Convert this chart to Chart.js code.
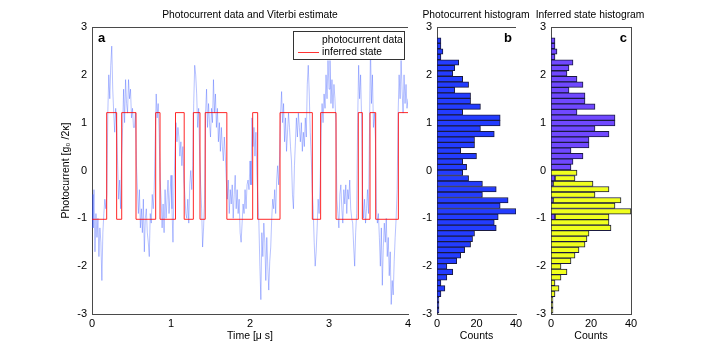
<!DOCTYPE html>
<html>
<head>
<meta charset="utf-8">
<script src="https://cdn.jsdelivr.net/npm/chart.js@4.4.0/dist/chart.umd.min.js"></script>
<style>
    body { margin: 0; background: #fff; width: 706px; height: 344px; position: relative; overflow: hidden; }
    canvas { position: absolute; top: 0; }
</style>
</head>
<body>
<canvas id="GraphTrace" style="left:0px" width="420" height="344"></canvas>
<canvas id="GraphHist" style="left:405px" width="130" height="344"></canvas>
<canvas id="GraphState" style="left:520px" width="186" height="344"></canvas>
<script>
// photocurrent trace, one value every 0.0125 us
const sampleStep = 0.0125;
const photocurrent = [
    -0.5, -1.2, -0.4, -1.7, -0.9, -1.4, -1.0, -1.8,
    -1.2, -1.5, -2.3, -1.3, -0.9, -0.6, -0.8, -0.5,
    1.2, 2.0, 1.5, 2.2, 2.6, 1.7, 1.2, 0.8,
    1.3, 0.9, 0.1, -0.6, -0.2, -0.8, 0.3, 0.9,
    1.7, 1.0, 1.9, 1.4, 1.2, 1.9, 1.5, 1.7,
    1.1, 1.3, 0.9, 0.9, 1.2, 0.1, -0.4, -0.9,
    -0.4, -1.2, -0.8, -1.3, -0.6, -1.7, -1.0, -0.8,
    -1.3, -1.5, -1.8, -0.9, -1.1, -0.5, -0.8, -0.4,
    0.6, 1.6, 1.1, 1.4, 0.8, -0.2, -0.6, -1.2,
    -0.7, -1.3, -0.4, -1.0, -0.6, -0.2, -0.9, -0.5,
    -0.1, -0.8, -1.5, -0.4, 0.4, 1.0, 0.6, 0.9,
    0.7, 0.3, 0.6, 0.1, 0.5, -0.2, -0.5, -0.9,
    -1.0, -0.6, -1.1, -0.3, 0.0, -0.4, 0.1, 1.4,
    2.2, 2.0, 1.6, 0.9, 1.3, 0.4, -0.3, -0.8,
    -1.6, -1.2, -0.6, 1.2, 1.7, 0.9, 1.4, 1.0,
    0.7, 1.3, 1.0, 1.9, 1.2, 1.6, 0.9, 1.3,
    0.6, 1.0, 0.4, 0.9, 0.5, 0.2, 0.7, 0.3,
    -0.2, -0.6, -0.2, -0.9, -0.4, -0.7, -0.3, -1.0,
    -0.5, -0.1, -0.8, -0.4, -0.9, -0.6, -1.3, -1.5,
    -1.1, -0.7, -0.9, -0.4, -0.8, -0.3, -0.2, -0.4,
    0.2, -0.3, 1.1, 0.5, 0.9, 0.3, 0.8, -0.1,
    -0.6, -1.1, -2.0, -2.7, -1.3, -1.8, -1.1, -1.5,
    -2.3, -1.4, -2.0, -2.5, -1.9, -1.6, -1.0, -0.6,
    -0.8, -0.4, -0.9, -0.2, 0.1, -0.3, 0.3, 1.2,
    1.65, 1.0, 1.4, 0.6, 1.1, 0.4, 0.8, 1.2,
    0.9, 0.5, 0.2, -0.5, -0.8, 0.1, 0.6, 1.1,
    0.7, 1.2, 0.9, 0.6, 1.0, 0.4, 0.8, 0.5,
    1.1, 0.7, 1.8, 2.2, 1.6, 0.8, 0.3, -0.4,
    -0.8, -1.5, -2.0, -1.7, -1.2, -0.6, -0.9, -0.3,
    0.8, 1.4, 1.0, 1.6, 1.3, 2.0, 1.5, 2.3,
    1.7, 2.3, 1.4, 1.9, 1.3, 1.8, 1.5, 1.0,
    -0.6, -0.9, -1.2, -0.5, -0.3, -0.8, -1.1, -0.4,
    -0.7, -0.3, -0.9, -0.4, -0.6, -0.2, -0.8, -1.0,
    -1.1, -1.6, -2.0, -1.3, -0.9, 1.0, 2.2, 1.5,
    2.0, 1.1, -0.5, -1.0, -0.6, -1.1, -0.8, -0.4,
    -0.9, 0.8, 2.6, 1.4, 2.0, 0.9, 1.2, 0.7,
    -0.8, -1.1, -0.9, -1.4, -2.0, -1.2, -2.4, -1.6,
    -1.1, -1.5, -1.0, -1.8, -1.4, -2.2, -1.7, -2.8,
    -2.3, -2.6, -1.9, -1.4, -1.0, -0.4, 1.2, 2.0,
    1.5, 2.3, 1.7, 1.2, 2.0, 1.4, 1.8, 1.3,
    1.5
];

// Viterbi estimate: switch times [us] and the level reached at each switch
const stateTimes = [0, 0.186, 0.312, 0.376, 0.557, 0.806, 0.861, 1.057, 1.167, 1.283, 1.367, 1.433,
    1.707, 2.034, 2.097, 2.380, 2.789, 2.894, 3.089, 3.371, 3.422, 3.519, 3.591, 3.878, 4.0];
const stateLevels = [-1.02, 1.21, -1.02, 1.21, -1.02, 1.21, -1.02, 1.21, -1.02, 1.21, -1.02, 1.21,
    -1.02, 1.21, -1.02, 1.21, -1.02, 1.21, -1.02, 1.21, -1.02, 1.21, -1.02, 1.21, 1.21];

// histogram bins, listed from the top bin (2.78) down to the bottom one (-2.98)
const binTop = 2.776;
const binBottom = -2.984;
const histCounts = [2, 2, 3, 2, 11, 9, 8, 13, 16, 9,
    17, 17, 22, 13, 32, 32, 22, 29, 19, 19,
    12, 20, 13, 15, 13, 16, 23, 30, 23, 36,
    32, 40, 31, 29, 30, 19, 18, 17, 14, 12,
    10, 5, 8, 5, 2, 4, 2, 1, 1, 1];
// inferred state histogram: upper state (purple) and lower state (yellow)
const upperCounts = [2, 2, 3, 2, 11, 9, 8, 13, 16, 9,
    17, 17, 22, 13, 32, 32, 22, 29, 19, 19,
    10, 16, 11, 10, 0, 2, 1, 0, 0, 1,
    0, 0, 2, 0, 0, 0, 0, 0, 0, 0,
    0, 0, 0, 0, 0, 0, 0, 0, 0, 0];
const lowerCounts = [0, 0, 0, 0, 0, 0, 0, 0, 0, 0,
    0, 0, 0, 0, 0, 0, 0, 0, 0, 0,
    0, 0, 0, 0, 13, 10, 20, 29, 22, 34,
    32, 40, 27, 29, 30, 19, 18, 17, 14, 12,
    10, 5, 8, 5, 2, 4, 2, 1, 1, 1];

const yTicks = [-3, -2, -1, 0, 1, 2, 3];

const binWidth = (binTop - binBottom) / histCounts.length;
const binCenters = histCounts.map((c, i) => binTop - (i + 0.5) * binWidth);

const fontFamily = 'Liberation Sans, Arial, sans-serif';
const tickFont = { family: fontFamily, size: 11 };
const labelFont = { family: fontFamily, size: 10.5 };
const axisColor = '#4a4a4a';

// frame line on top (and optionally right), panel letter, titles
const framePlugin = {
    id: 'frame',
    afterDraw(chart, args, opts) {
        const { ctx, chartArea } = chart;
        ctx.save();
        ctx.strokeStyle = axisColor;
        ctx.lineWidth = 1;
        ctx.beginPath();
        ctx.moveTo(chartArea.left, chartArea.top + 0.5);
        ctx.lineTo(chartArea.right, chartArea.top + 0.5);
        if (opts.rightLine) {
            ctx.moveTo(chartArea.right + 0.5, chartArea.top);
            ctx.lineTo(chartArea.right + 0.5, chartArea.bottom);
        }
        ctx.stroke();
        ctx.fillStyle = '#000';
        ctx.font = 'bold 13px ' + fontFamily;
        ctx.textBaseline = 'middle';
        if (opts.letterLeft) {
            ctx.textAlign = 'left';
            ctx.fillText(opts.letter, chartArea.left + 6, chartArea.top + 11);
        } else {
            ctx.textAlign = 'right';
            ctx.fillText(opts.letter, chartArea.right - 4, chartArea.top + 11);
        }
        ctx.font = '10.3px ' + fontFamily;
        ctx.textAlign = 'center';
        ctx.fillText(opts.title, opts.titleX, 15);
        ctx.restore();
    }
};

const legendPlugin = {
    id: 'boxLegend',
    afterDraw(chart) {
        const { ctx, chartArea } = chart;
        const x0 = chartArea.right - 115, y0 = chartArea.top + 4;
        ctx.save();
        ctx.fillStyle = '#fff';
        ctx.fillRect(x0, y0, 111, 28);
        ctx.strokeStyle = '#333';
        ctx.lineWidth = 1;
        ctx.strokeRect(x0 + 0.5, y0 + 0.5, 111, 28);
        ctx.strokeStyle = 'rgba(255,0,0,0.8)';
        ctx.beginPath();
        ctx.moveTo(x0 + 5, y0 + 21.5);
        ctx.lineTo(x0 + 26, y0 + 21.5);
        ctx.stroke();
        ctx.fillStyle = '#000';
        ctx.font = '10.3px ' + fontFamily;
        ctx.textBaseline = 'middle';
        ctx.textAlign = 'left';
        ctx.fillText('photocurrent data', x0 + 29, y0 + 9);
        ctx.fillText('inferred state', x0 + 29, y0 + 21);
        ctx.restore();
    }
};

function yAxis(width, withTitle) {
    return {
        type: 'linear',
        min: -3,
        max: 3,
        offset: false,
        afterFit: (scale) => { scale.width = width; },
        afterBuildTicks: (scale) => { scale.ticks = yTicks.map(v => ({ value: v })); },
        grid: { display: false, drawTicks: false, offset: false },
        border: { display: true, color: axisColor },
        ticks: { color: '#000', font: tickFont, padding: 5 },
        title: withTitle ? {
            display: true,
            text: 'Photocurrent [g\u2080 /2\u03ba]',
            color: '#000',
            font: labelFont,
            padding: { top: 60, bottom: 0 }
        } : { display: false }
    };
}

function xAxis(max, step, label) {
    return {
        type: 'linear',
        min: 0,
        max: max,
        afterFit: (scale) => { scale.height = 30; },
        grid: { display: false, drawTicks: false },
        border: { display: true, color: axisColor },
        ticks: { color: '#000', font: tickFont, stepSize: step, padding: 3, maxRotation: 0 },
        title: { display: true, text: label, color: '#000', font: labelFont, padding: { top: 0, bottom: 2 } }
    };
}

const traceConfig = {
    type: 'line',
    data: {
        datasets: [{
            label: 'inferred state',
            data: stateTimes.map((t, i) => ({ x: t, y: stateLevels[i] })),
            borderColor: 'rgba(255, 0, 0, 0.85)',
            borderWidth: 1,
            stepped: 'before',
            pointRadius: 0
        }, {
            label: 'photocurrent data',
            data: photocurrent.map((v, i) => ({ x: i * sampleStep, y: v })),
            borderColor: 'rgba(50, 80, 255, 0.5)',
            borderWidth: 0.7,
            tension: 0,
            pointRadius: 0
        }]
    },
    options: {
        responsive: false,
        animation: false,
        layout: { padding: { top: 27, right: 12, left: 0, bottom: 0 } },
        scales: {
            x: xAxis(4, 1, 'Time [\u03bc s]'),
            y: yAxis(92, true)
        },
        plugins: {
            legend: { display: false },
            tooltip: { enabled: false },
            frame: { letter: 'a', letterLeft: true, title: 'Photocurrent data and Viterbi estimate', titleX: 250 }
        }
    },
    plugins: [framePlugin, legendPlugin]
};

const histConfig = {
    type: 'bar',
    data: {
        datasets: [{
            label: 'Photocurrent histogram',
            data: histCounts.map((c, i) => ({ x: c, y: binCenters[i] })),
            backgroundColor: 'rgb(35, 60, 255)',
            borderColor: '#1a1a40',
            borderWidth: 1,
            borderSkipped: false,
            barPercentage: 1,
            categoryPercentage: 1
        }]
    },
    options: {
        indexAxis: 'y',
        responsive: false,
        animation: false,
        layout: { padding: { top: 27, right: 19, left: 0, bottom: 0 } },
        scales: {
            x: xAxis(40, 20, 'Counts'),
            y: yAxis(32, false)
        },
        plugins: {
            legend: { display: false },
            tooltip: { enabled: false },
            frame: { letter: 'b', letterLeft: false, title: 'Photocurrent histogram', titleX: 71 }
        }
    },
    plugins: [framePlugin]
};

const stateConfig = {
    type: 'bar',
    data: {
        datasets: [{
            label: 'upper state',
            data: upperCounts.map((c, i) => ({ x: c, y: binCenters[i] })),
            backgroundColor: 'rgb(112, 72, 255)',
            borderColor: '#1a1a40',
            borderWidth: 1,
            borderSkipped: false,
            barPercentage: 1,
            categoryPercentage: 1
        }, {
            label: 'lower state',
            data: lowerCounts.map((c, i) => ({ x: c, y: binCenters[i] })),
            backgroundColor: 'rgb(240, 255, 30)',
            borderColor: '#1a1a40',
            borderWidth: 1,
            borderSkipped: false,
            barPercentage: 1,
            categoryPercentage: 1
        }]
    },
    options: {
        indexAxis: 'y',
        responsive: false,
        animation: false,
        layout: { padding: { top: 27, right: 75, left: 0, bottom: 0 } },
        scales: {
            x: Object.assign(xAxis(40, 20, 'Counts'), { stacked: true }),
            y: Object.assign(yAxis(31, false), { stacked: true })
        },
        plugins: {
            legend: { display: false },
            tooltip: { enabled: false },
            frame: { letter: 'c', letterLeft: false, rightLine: true, title: 'Inferred state histogram', titleX: 70 }
        }
    },
    plugins: [framePlugin]
};

const GraphTrace = new Chart(document.getElementById('GraphTrace'), traceConfig);
const GraphHist = new Chart(document.getElementById('GraphHist'), histConfig);
const GraphState = new Chart(document.getElementById('GraphState'), stateConfig);
</script>
</body>
</html>
